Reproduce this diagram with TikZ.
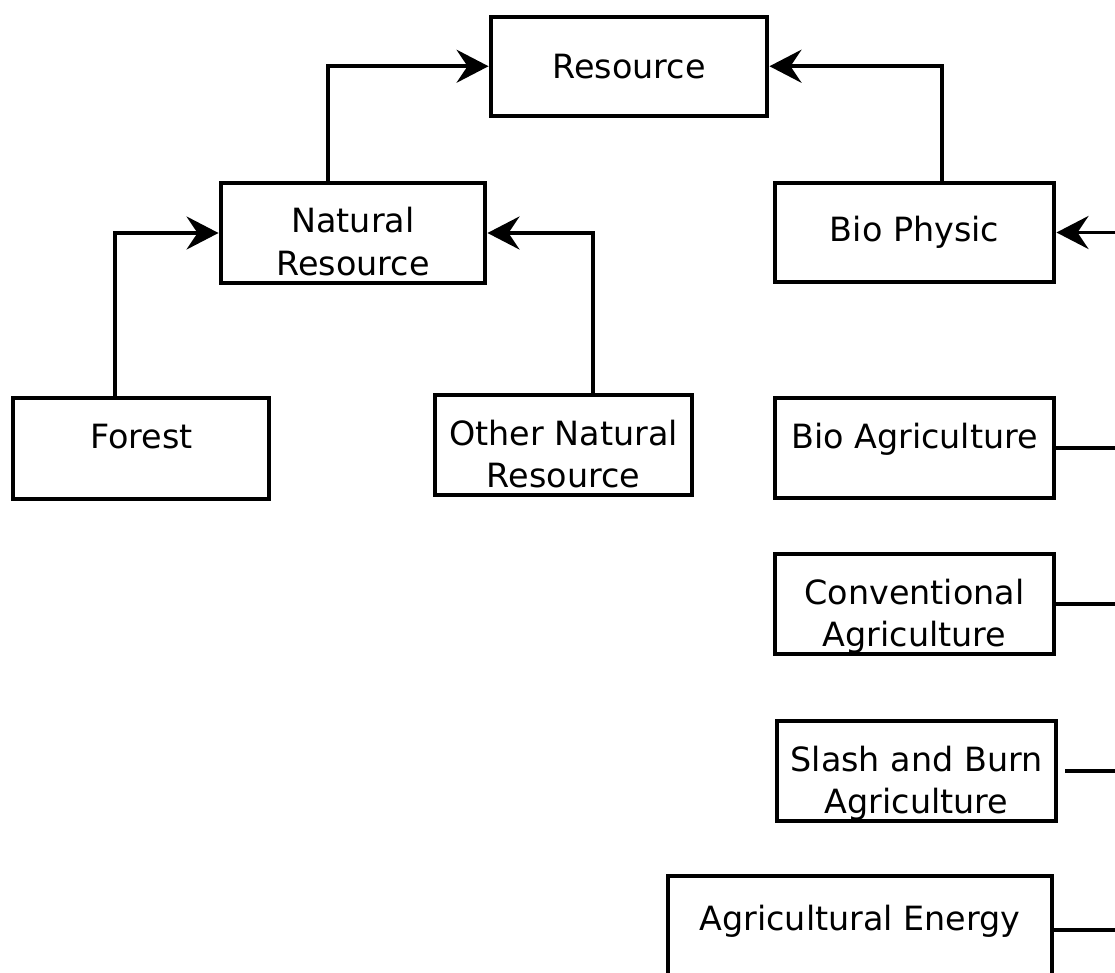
\documentclass[tikz,border=0pt]{standalone}
\usepackage{fontspec}
\setmainfont{DejaVu Sans}
\usetikzlibrary{arrows.meta,positioning}
\newcommand\toprow[1]{\raisebox{0pt}[0pt][0pt]{\begin{tabular}[t]{@{}c@{}}#1\end{tabular}}}

\begin{document}
\begin{tikzpicture}[x=0.02cm, y=-0.02cm, n/.style={draw,line width=0.08cm,inner sep=0pt,align=center,font=\fontsize{19pt}{24.4pt}\selectfont}, l/.style={line width=0.08cm}, a/.style={-{Stealth[length=0.64cm,width=0.66cm,inset=0.22cm]},line width=0.08cm}]
\useasboundingbox (0,0) rectangle (1115,973);
\clip (0,0) rectangle (1115,973);
\coordinate (rim) at (1115,0);
\node[n,minimum width=5.54cm,minimum height=1.99cm] (res) at (629,66.25) {Resource};
\node[n,minimum width=5.3cm,minimum height=2.02cm] (nat) at (353,233) {\toprow{Natural\\Resource}};
\node[n,minimum width=5.6cm,minimum height=2cm] (bio) at (914.5,232.5) {Bio Physic};
\node[n,minimum width=5.13cm,minimum height=2.04cm] (forest) at (141.25,448.5) {\toprow{Forest}};
\node[n,minimum width=5.14cm,minimum height=2.02cm] (other) at (563.5,445) {\toprow{Other Natural\\Resource}};
\node[n,minimum width=5.6cm,minimum height=2cm] (bioagri) at (914.5,448) {\toprow{Bio Agriculture}};
\node[n,minimum width=5.6cm,minimum height=2.02cm] (conv) at (914.5,604) {\toprow{Conventional\\Agriculture}};
\node[n,minimum width=5.6cm,minimum height=2cm] (slash) at (916.5,771) {\toprow{Slash and Burn\\Agriculture}};
\node[n,minimum width=7.68cm,minimum height=2.16cm] (energy) at (860,930) {\toprow{Agricultural Energy}};
\draw[a] ([xshift=-0.5cm]nat.north) |- (res.west);
\draw[a] ([xshift=0.55cm]bio.north) |- (res.east);
\draw[a] ([xshift=-0.535cm]forest.north) |- (nat.west);
\draw[a] ([xshift=0.59cm]other.north) |- (nat.east);
\draw[a] (rim |- bio.east) -- (bio.east);
\draw[l] (bioagri.east) -- (rim |- bioagri.east);
\draw[l] (conv.east) -- (rim |- conv.east);
\draw[l] ([xshift=0.14cm]slash.east) -- (rim |- slash.east);
\draw[l] (energy.east) -- (rim |- energy.east);
\end{tikzpicture}
\end{document}
